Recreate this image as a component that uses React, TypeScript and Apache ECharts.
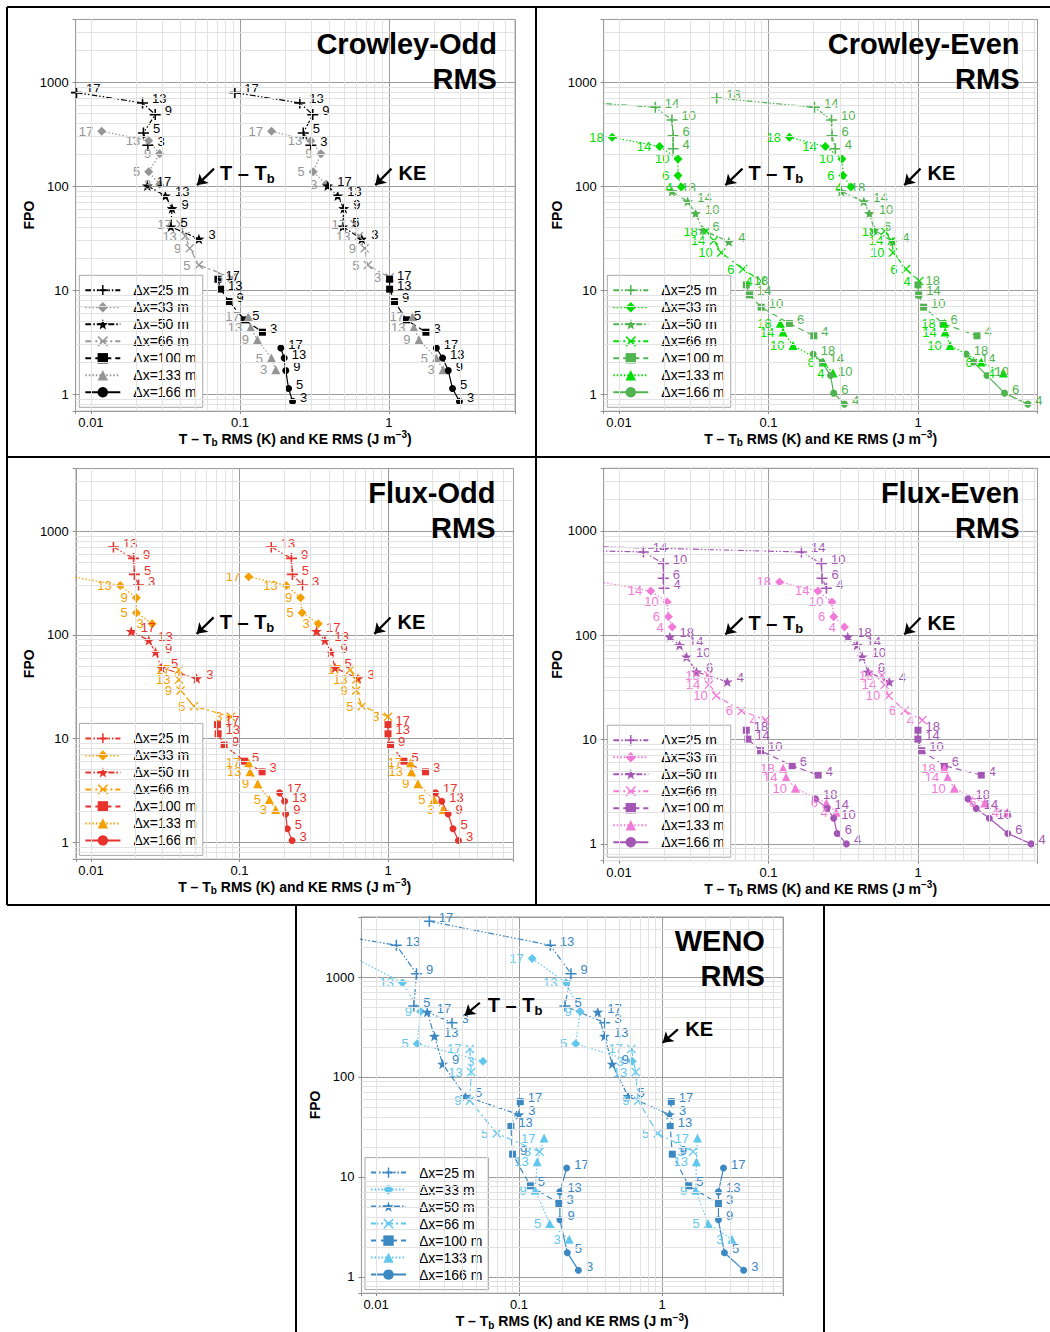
import React, { useEffect, useRef } from 'react';
import * as echarts from 'echarts';

const FONT = '"Liberation Sans", Arial, Helvetica, sans-serif';

// Legend entries, one per grid spacing
const RESOLUTIONS = ['Δx=25 m', 'Δx=33 m', 'Δx=50 m', 'Δx=66 m', 'Δx=100 m', 'Δx=133 m', 'Δx=166 m'];
// Point tags drawn next to each marker
const ODD_TAGS = ['17', '13', '9', '5', '3'];
const EVEN_TAGS = ['18', '14', '10', '6', '4'];

// ---------- Crowley-Odd ----------
const crowleyOddFpo = [
  [791, 629, 486, 324, 247],
  [336, 272, 204, 137, 104],
  [100.5, 80.6, 60.9, 40.6, 31],
  [42.8, 33, 25.2, 17.4, 13.2],
  [12.7, 10.2, 7.75, 5.17, 3.93],
  [5.56, 4.36, 3.32, 2.22, 1.71],
  [2.77, 2.22, 1.68, 1.13, 0.85],
];
const crowleyOddT = [
  [0.008, 0.0222, 0.027, 0.0225, 0.0241],
  [0.0118, 0.0244, 0.0289, 0.0244, 0.0289],
  [0.0239, 0.0316, 0.035, 0.0344, 0.053],
  [0.0398, 0.043, 0.046, 0.053, 0.088],
  [0.0711, 0.0741, 0.0844, 0.1075, 0.1415],
  [0.1138, 0.118, 0.131, 0.1626, 0.174],
  [0.188, 0.198, 0.203, 0.212, 0.2255],
];
const crowleyOddKE = [
  [0.0924, 0.252, 0.308, 0.266, 0.299],
  [0.163, 0.299, 0.35, 0.31, 0.378],
  [0.388, 0.453, 0.497, 0.49, 0.657],
  [0.587, 0.628, 0.686, 0.722, 1.01],
  [1.01, 1.01, 1.09, 1.31, 1.77],
  [1.44, 1.47, 1.59, 2.08, 2.31],
  [2.08, 2.29, 2.5, 2.67, 2.97],
];

// ---------- Crowley-Even ----------
const crowleyEvenFpo = [
  [702, 571, 432, 305, 228],
  [294, 240, 182, 126, 97.6],
  [88.7, 71, 54.5, 37.7, 29.2],
  [36.9, 29.8, 22.9, 15.9, 12.2],
  [11.2, 8.98, 6.84, 4.77, 3.63],
  [4.8, 3.94, 2.93, 2.03, 1.59],
  [2.42, 2.03, 1.51, 1.02, 0.8],
];
const crowleyEvenT = [
  [0.0026, 0.0175, 0.0226, 0.023, 0.023],
  [0.009, 0.0187, 0.0248, 0.0248, 0.0261],
  [0.0226, 0.0288, 0.0325, 0.0364, 0.0543],
  [0.0384, 0.0431, 0.0483, 0.0675, 0.0894],
  [0.071, 0.0747, 0.0893, 0.138, 0.201],
  [0.12, 0.125, 0.146, 0.232, 0.27],
  [0.199, 0.228, 0.26, 0.273, 0.322],
];
const crowleyEvenKE = [
  [0.045, 0.203, 0.264, 0.266, 0.28],
  [0.138, 0.24, 0.31, 0.315, 0.356],
  [0.307, 0.434, 0.473, 0.511, 0.678],
  [0.598, 0.67, 0.681, 0.832, 1.02],
  [1.0, 1.01, 1.09, 1.47, 2.48],
  [1.5, 1.52, 1.64, 2.65, 3.73],
  [2.1, 2.35, 2.89, 3.79, 5.43],
];

// ---------- Flux-Odd ----------
const fluxOddFpo = [
  [null, 701, 545, 382, 301],
  [363, 299, 227, 163, 128],
  [108, 88.2, 68, 48, 37.9],
  [45.9, 37, 29, 20.5, 16.2],
  [13.6, 11.1, 8.63, 6.04, 4.77],
  [5.83, 4.77, 3.65, 2.58, 2.07],
  [2.99, 2.48, 1.87, 1.35, 1.04],
];
const fluxOddT = [
  [null, 0.01416, 0.01936, 0.0196, 0.0209],
  [0.0074, 0.01574, 0.0202, 0.0202, 0.0258],
  [0.01868, 0.0245, 0.0272, 0.0298, 0.0515],
  [0.0391, 0.0391, 0.0401, 0.0494, 0.0875],
  [0.0711, 0.0718, 0.0788, 0.108, 0.142],
  [0.1153, 0.1178, 0.1327, 0.159, 0.175],
  [0.1862, 0.2014, 0.2046, 0.21, 0.226],
];
const fluxOddKE = [
  [null, 0.1637, 0.2236, 0.227, 0.2655],
  [0.1153, 0.2065, 0.258, 0.264, 0.339],
  [0.33, 0.376, 0.413, 0.44, 0.627],
  [0.556, 0.61, 0.61, 0.667, 1.0],
  [1.0, 1.0, 1.04, 1.28, 1.79],
  [1.42, 1.44, 1.59, 2.04, 2.35],
  [2.09, 2.3, 2.54, 2.74, 2.98],
];

// ---------- Flux-Even ----------
const fluxEvenFpo = [
  [710, 629, 487, 352, 283],
  [325, 266, 209, 151, 120],
  [96.6, 80.4, 62.2, 44.6, 35.8],
  [41.5, 33.5, 26.3, 18.9, 15.4],
  [12.3, 10.1, 7.82, 5.62, 4.57],
  [5.3, 4.35, 3.41, 2.47, 2.01],
  [2.7, 2.19, 1.76, 1.26, 1.0],
];
const fluxEvenT = [
  [0.00054, 0.01455, 0.0198, 0.0198, 0.02],
  [0.0075, 0.0163, 0.021, 0.0214, 0.0227],
  [0.0219, 0.0254, 0.0283, 0.033, 0.053],
  [0.0395, 0.0399, 0.0447, 0.066, 0.0955],
  [0.071, 0.0728, 0.0885, 0.144, 0.215],
  [0.1253, 0.131, 0.1514, 0.244, 0.284],
  [0.206, 0.2465, 0.273, 0.288, 0.332],
];
const fluxEvenKE = [
  [0.0062, 0.166, 0.226, 0.228, 0.244],
  [0.1186, 0.214, 0.266, 0.273, 0.322],
  [0.339, 0.391, 0.423, 0.464, 0.643],
  [0.574, 0.598, 0.637, 0.815, 1.07],
  [1.0, 0.998, 1.06, 1.5, 2.65],
  [1.5, 1.58, 1.75, 2.79, 3.97],
  [2.16, 2.45, 3.0, 3.99, 5.71],
];

// ---------- WENO ----------
const wenoFpo = [
  [3614, 2077, 1080, 512, 349],
  [1527, 877, 453, 215, 144],
  [446, 256, 135, 64.1, 42],
  [191, 112, 58, 27.3, 17.9],
  [56.7, 32, 16.9, 8.16, 5.43],
  [24.5, 14.2, 7.38, 3.42, 2.38],
  [12.3, 7.1, 3.73, 1.75, 1.17],
];
const wenoT = [
  [0.00139, 0.01387, 0.0192, 0.01837, 0.034],
  [0.00726, 0.01529, 0.02047, 0.0194, 0.056],
  [0.0228, 0.0256, 0.0292, 0.0422, 0.0996],
  [0.0453, 0.0463, 0.0453, 0.0698, 0.1393],
  [0.102, 0.0877, 0.0901, 0.12, 0.19],
  [0.1496, 0.134, 0.1297, 0.164, 0.2244],
  [0.2154, 0.193, 0.193, 0.2175, 0.26],
];
const wenoKE = [
  [0.0236, 0.1655, 0.2307, 0.2094, 0.397],
  [0.1236, 0.2129, 0.2674, 0.249, 0.619],
  [0.355, 0.396, 0.448, 0.578, 1.127],
  [0.61, 0.654, 0.68, 0.932, 1.648],
  [1.16, 1.14, 1.18, 1.535, 2.48],
  [1.77, 1.74, 1.72, 2.1, 3.08],
  [2.69, 2.48, 2.48, 2.73, 3.72],
];

// Axis ranges
const X_MIN = 0.0079;
const Y_MIN = 0.69;
const Y_MAX = 4000;

// Marker shapes
const PLUS = 'path://M4.3,0H5.7V4.3H10V5.7H5.7V10H4.3V5.7H0V4.3H4.3Z';
const CROSS = 'path://M1,0L5,4L9,0L10,1L6,5L10,9L9,10L5,6L1,10L0,9L4,5L0,1Z';
const STAR = 'path://M5,0L6.18,3.38L9.76,3.45L6.9,5.62L7.94,9.05L5,7L2.06,9.05L3.1,5.62L0.24,3.45L3.82,3.38Z';

const SYMBOLS = [PLUS, 'diamond', STAR, CROSS, 'rect', 'triangle', 'circle'];
const SYMBOL_SIZES = [11, 9, 11, 9, 7, 9, 7];
const LINE_TYPES: any[] = [
  [6, 2, 1.5, 2, 1.5, 2],
  [1.5, 2],
  [6, 2, 1.5, 2],
  [7, 3, 2, 3],
  [6, 4],
  [1.5, 2],
  'solid',
];
// dark tone for 25/50/100/166 m, light tone for 33/66/133 m
const IS_DARK = [true, false, true, false, true, false, true];

const PANELS = [
  {
    title: 'Crowley-Odd\nRMS', tags: ODD_TAGS, fpo: crowleyOddFpo, t: crowleyOddT, ke: crowleyOddKE,
    dark: '#000000', light: '#959595',
    grid: { left: 75.7, top: 19.4, width: 439.2, height: 391.4 }, xMax: 7,
    tArrow: [[0.067, 147], [0.0515, 102]], tText: [0.073, 132],
    keArrow: [[1.04, 147], [0.81, 102]], keText: [1.15, 132],
  },
  {
    title: 'Crowley-Even\nRMS', tags: EVEN_TAGS, fpo: crowleyEvenFpo, t: crowleyEvenT, ke: crowleyEvenKE,
    dark: '#4fb44f', light: '#00de00',
    grid: { left: 603.7, top: 19.4, width: 433.8, height: 391.4 }, xMax: 6.3,
    tArrow: [[0.067, 147], [0.0515, 102]], tText: [0.073, 132],
    keArrow: [[1.04, 147], [0.81, 102]], keText: [1.15, 132],
  },
  {
    title: 'Flux-Odd\nRMS', tags: ODD_TAGS, fpo: fluxOddFpo, t: fluxOddT, ke: fluxOddKE,
    dark: '#e8322c', light: '#f5a000',
    grid: { left: 75.8, top: 468.6, width: 437.7, height: 390.3 }, xMax: 7,
    tArrow: [[0.067, 147], [0.0515, 102]], tText: [0.073, 132],
    keArrow: [[1.04, 147], [0.81, 102]], keText: [1.15, 132],
  },
  {
    title: 'Flux-Even\nRMS', tags: EVEN_TAGS, fpo: fluxEvenFpo, t: fluxEvenT, ke: fluxEvenKE,
    dark: '#a456b4', light: '#f27ad8',
    grid: { left: 603.7, top: 468.2, width: 433.8, height: 392.5 }, xMax: 6.3,
    tArrow: [[0.067, 147], [0.0515, 102]], tText: [0.073, 132],
    keArrow: [[1.04, 147], [0.81, 102]], keText: [1.15, 132],
  },
  {
    title: 'WENO\nRMS', tags: ODD_TAGS, fpo: wenoFpo, t: wenoT, ke: wenoKE,
    dark: '#3b88c3', light: '#62c7ef',
    grid: { left: 361.4, top: 916.8, width: 421.5, height: 376.3 }, xMax: 7,
    tArrow: [[0.0532, 553], [0.0417, 413]], tText: [0.06, 520],
    keArrow: [[1.29, 299], [1.01, 220]], keText: [1.44, 299],
  },
];

// Light minor grid positions (2..9 within each decade)
function minorValues(lo: number, hi: number): number[] {
  const out: number[] = [];
  for (let e = -4; e <= 4; e++) {
    for (let m = 2; m <= 9; m++) {
      const v = m * Math.pow(10, e);
      if (v > lo * 1.0001 && v < hi * 0.9999) out.push(parseFloat(v.toPrecision(3)));
    }
  }
  return out;
}

const decadeLabel = (v: number) => {
  const l = Math.log10(v);
  if (Math.abs(l - Math.round(l)) > 1e-6) return '';
  return String(parseFloat(v.toPrecision(3)));
};

function buildOption() {
  const grids: any[] = [];
  const xAxes: any[] = [];
  const yAxes: any[] = [];
  const series: any[] = [];
  const legends: any[] = [];
  const graphics: any[] = [];

  PANELS.forEach((P, p) => {
    const g = P.grid;
    grids.push({
      left: g.left, top: g.top, width: g.width, height: g.height,
      show: true, borderColor: '#b8b8b8', borderWidth: 1, backgroundColor: '#ffffff',
    });
    xAxes.push({
      type: 'log', logBase: 10, gridIndex: p, min: X_MIN, max: P.xMax,
      axisLine: { show: false },
      axisTick: { show: true, inside: false, length: 3, lineStyle: { color: '#888' } },
      axisLabel: { formatter: decadeLabel, color: '#000', fontSize: 13, fontFamily: FONT, margin: 5 },
      splitLine: { show: true, lineStyle: { color: '#9c9c9c', width: 1 } },
      name: 'T – T{sub|b} RMS (K) and KE RMS (J m{sup|−3})',
      nameLocation: 'middle', nameGap: 19,
      nameTextStyle: {
        color: '#000', fontFamily: FONT, fontSize: 14, fontWeight: 'bold', lineHeight: 18,
        rich: {
          sub: { fontSize: 10, fontWeight: 'bold', fontFamily: FONT, color: '#000', verticalAlign: 'bottom', lineHeight: 10 },
          sup: { fontSize: 10, fontWeight: 'bold', fontFamily: FONT, color: '#000', verticalAlign: 'top', lineHeight: 10 },
        },
      },
    });
    yAxes.push({
      type: 'log', logBase: 10, gridIndex: p, min: Y_MIN, max: Y_MAX,
      axisLine: { show: false },
      axisTick: { show: true, length: 3, lineStyle: { color: '#888' } },
      axisLabel: { formatter: decadeLabel, color: '#000', fontSize: 13, fontFamily: FONT, margin: 7 },
      splitLine: { show: true, lineStyle: { color: '#9c9c9c', width: 1 } },
      name: 'FPO', nameLocation: 'middle', nameGap: 33,
      nameTextStyle: { color: '#000', fontFamily: FONT, fontSize: 14, fontWeight: 'bold' },
    });

    // minor grid lines
    series.push({
      type: 'line', name: `minor${p}`, xAxisIndex: p, yAxisIndex: p, data: [], silent: true, z: 1,
      markLine: {
        silent: true, symbol: ['none', 'none'], animation: false,
        label: { show: false },
        lineStyle: { color: '#e2e2e2', width: 1, type: 'solid' },
        data: [
          ...minorValues(X_MIN, P.xMax).map((v) => ({ xAxis: v })),
          ...minorValues(Y_MIN, Y_MAX).map((v) => ({ yAxis: v })),
        ],
      },
    });

    // measurement curves: T - Tb and KE share style per grid spacing
    RESOLUTIONS.forEach((_, r) => {
      const color = IS_DARK[r] ? P.dark : P.light;
      [P.t, P.ke].forEach((xs) => {
        const data = P.fpo[r]
          .map((y, i) => (y == null || xs[r][i] == null ? null : { name: P.tags[i], value: [xs[r][i], y] }))
          .filter((d) => d !== null);
        series.push({
          type: 'line', name: `p${p}r${r}`, xAxisIndex: p, yAxisIndex: p, data,
          symbol: SYMBOLS[r], symbolSize: SYMBOL_SIZES[r], symbolKeepAspect: true, showAllSymbol: true,
          clip: true, z: 3,
          lineStyle: { color, width: 1.2, type: LINE_TYPES[r] },
          itemStyle: { color },
          label: {
            show: true, formatter: '{b}', color, fontFamily: FONT, fontSize: 13,
            position: IS_DARK[r] ? 'right' : 'left', distance: IS_DARK[r] ? 4 : 4,
            offset: IS_DARK[r] ? [0, -4] : [0, 0],
          },
          emphasis: { disabled: true },
        });
      });
    });

    // arrows and their captions
    const caption = (coord: number[], text: string) => ({
      coord, symbol: 'circle', symbolSize: 1, itemStyle: { color: 'rgba(0,0,0,0)' },
      label: {
        show: true, position: 'right', distance: 0, formatter: text,
        color: '#000', fontFamily: FONT, fontSize: 20, fontWeight: 'bold', lineHeight: 24,
        rich: { s: { fontSize: 13, fontWeight: 'bold', fontFamily: FONT, color: '#000', verticalAlign: 'bottom', lineHeight: 14 } },
      },
    });
    series.push({
      type: 'line', name: `notes${p}`, xAxisIndex: p, yAxisIndex: p, data: [], silent: true, z: 5,
      markLine: {
        silent: true, animation: false, symbol: ['none', 'arrow'], symbolSize: 10,
        label: { show: false },
        lineStyle: { color: '#000', width: 2.2, type: 'solid' },
        data: [
          [{ coord: P.tArrow[0] }, { coord: P.tArrow[1] }],
          [{ coord: P.keArrow[0] }, { coord: P.keArrow[1] }],
        ],
      },
      markPoint: {
        silent: true, animation: false,
        data: [caption(P.tText, 'T – T{s|b}'), caption(P.keText, 'KE')],
      },
    });

    legends.push({
      orient: 'vertical',
      left: g.left + 3.6,
      bottom: 1332 - (g.top + g.height) + 3.5,
      data: RESOLUTIONS.map((_, r) => `p${p}r${r}`),
      formatter: (n: string) => `{gap|}${RESOLUTIONS[Number(n.split('r')[1])]}`,
      selectedMode: false,
      itemWidth: 35, itemHeight: 13, itemGap: 3,
      padding: [8, 6, 8, 5],
      backgroundColor: '#ffffff', borderColor: '#a8a8a8', borderWidth: 1,
      textStyle: {
        color: '#000', fontFamily: FONT, fontSize: 14,
        rich: { gap: { width: 8, height: 1 } },
      },
    });

    graphics.push({
      type: 'text', x: g.left + g.width - 18, y: g.top + 7, z: 50,
      style: {
        text: P.title, fill: '#000', fontFamily: FONT, fontSize: 29, fontWeight: 'bold',
        align: 'right', verticalAlign: 'top', lineHeight: 35,
      },
    });
  });

  // panel frame lines
  const frame = [
    [7, 7, 1050, 7],
    [7, 457, 1050, 457],
    [7, 905, 1050, 905],
    [7, 7, 7, 905],
    [536, 7, 536, 905],
    [296, 905, 296, 1332],
    [824, 905, 824, 1332],
  ];
  frame.forEach(([x1, y1, x2, y2]) => {
    graphics.push({ type: 'line', z: 60, shape: { x1, y1, x2, y2 }, style: { stroke: '#000', lineWidth: 2 } });
  });

  return {
    animation: false,
    backgroundColor: '#ffffff',
    textStyle: { fontFamily: FONT },
    grid: grids,
    xAxis: xAxes,
    yAxis: yAxes,
    legend: legends,
    series,
    graphic: graphics,
  };
}

export default function App() {
  const ref = useRef<HTMLDivElement>(null);
  useEffect(() => {
    if (!ref.current) return;
    const chart = echarts.init(ref.current, undefined, { renderer: 'svg' });
    chart.setOption(buildOption() as any);
    return () => chart.dispose();
  }, []);
  return (
    <div
      ref={ref}
      style={{ position: 'absolute', left: 0, top: 0, width: 1050, height: 1332, background: '#fff' }}
    />
  );
}
